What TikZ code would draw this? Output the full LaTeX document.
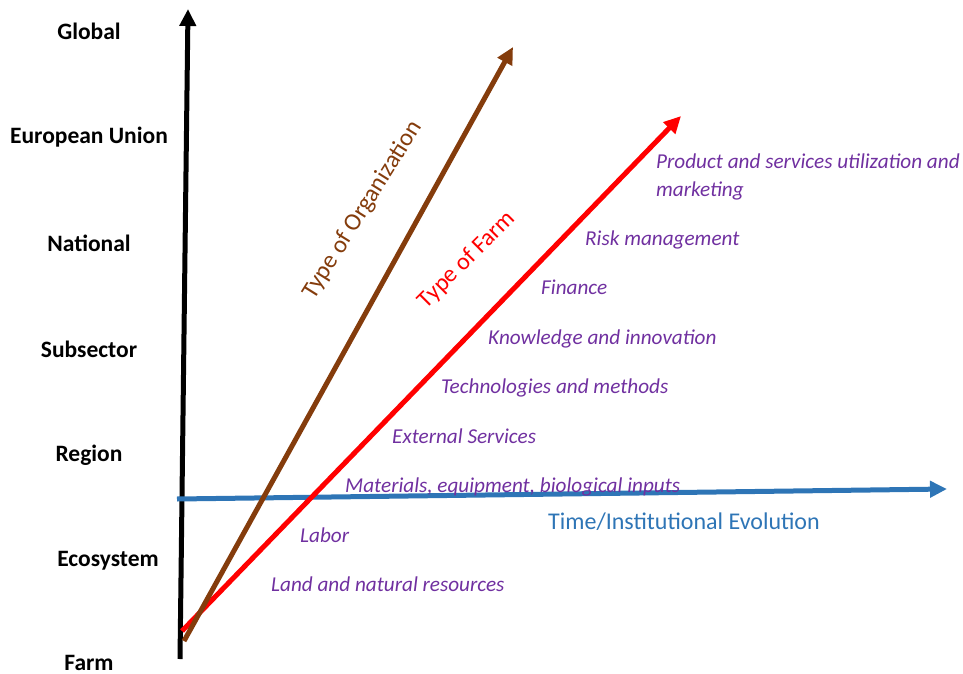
\documentclass[tikz,border=0pt]{standalone}
\usepackage{fontspec}
\setmainfont{Carlito}
\usetikzlibrary{arrows.meta}
\definecolor{orgbrown}{HTML}{843C0C}
\definecolor{farmred}{HTML}{FF0000}
\definecolor{factpurple}{HTML}{7030A0}
\definecolor{timeblue}{HTML}{2E75B6}

\begin{document}
\begin{tikzpicture}[
    x=1pt, y=-1pt,
    every node/.style={inner sep=0pt},
    level/.style={font=\fontsize{23.5}{26}\selectfont\bfseries},
    factor/.style={anchor=mid west, text=factpurple, font=\fontsize{21.2}{28}\selectfont\itshape, align=left},
    axis/.style={line width=5pt, -{Triangle[length=17pt,width=16pt]}},
]
\useasboundingbox (0,0) rectangle (963,674);

% scale levels on the vertical axis
\node[level] (global) at (89,31) {Global};
\node[level] (eu) at (89,137) {European Union};
\node[level] (national) at (89,243) {National};
\node[level] (subsector) at (89,349) {Subsector};
\node[level] (region) at (89,455) {Region};
\node[level] (ecosystem) at (108,561) {Ecosystem};
\node[level] (farm) at (89,663) {Farm};

% end points of the axes
\coordinate (vbot) at (180,659);
\coordinate (vtop) at (188,9);
\coordinate (tleft) at (177,499);
\coordinate (tright) at (947,489);
\coordinate (fbot) at (182,631);
\coordinate (ftop) at (681,116);
\coordinate (obot) at (184,641);
\coordinate (otop) at (513,47);

\draw[axis, black] (vbot) -- (vtop);
\draw[axis, timeblue] (tleft) -- (tright);
\draw[axis, farmred] (fbot) -- (ftop);
\draw[axis, orgbrown] (obot) -- (otop);

% axis titles
\node[rotate=58, text=orgbrown, font=\fontsize{24.5}{28}\selectfont] (orglabel) at (363,210) {Type of Organization};
\node[rotate=45, text=farmred, font=\fontsize{24}{28}\selectfont] (farmlabel) at (467,260) {Type of Farm};
\node[anchor=mid west, text=timeblue, font=\fontsize{24}{28}\selectfont] (timelabel) at (548,527) {Time/Institutional Evolution};

% production factors along the farm axis
\node[factor] (land) at (271,589) {Land and natural resources};
\node[factor] (labor) at (300,540) {Labor};
\node[factor] (materials) at (345,490) {Materials, equipment, biological inputs};
\node[factor] (services) at (392,441) {External Services};
\node[factor] (tech) at (441,391) {Technologies and methods};
\node[factor] (knowledge) at (488,342) {Knowledge and innovation};
\node[factor] (finance) at (541,292) {Finance};
\node[factor] (risk) at (585,243) {Risk management};
\node[factor, anchor=north west] (product) at (656,154) {Product and services utilization and\\marketing};
\end{tikzpicture}
\end{document}
